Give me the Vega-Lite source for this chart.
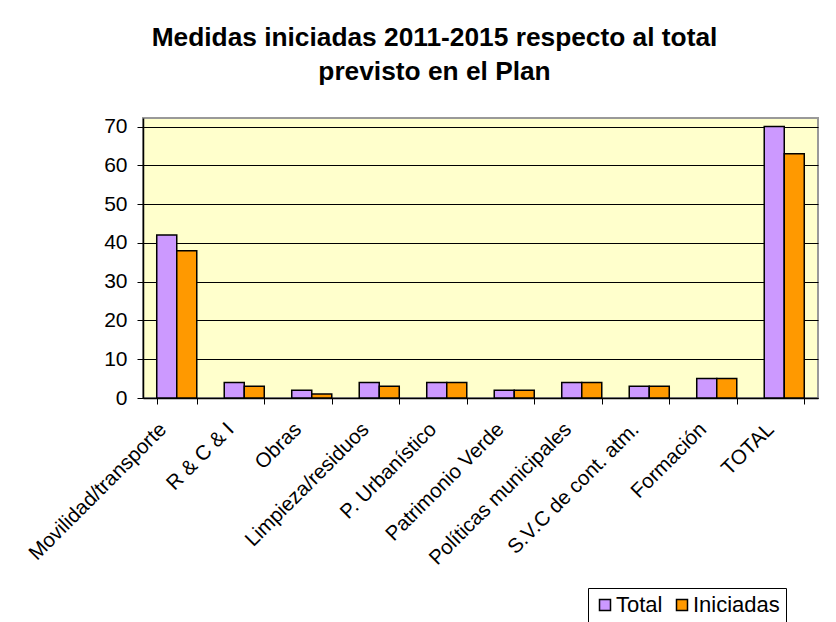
{
  "$schema": "https://vega.github.io/schema/vega-lite/v6.json",
  "autosize": "none",
  "width": 675,
  "height": 280,
  "padding": {"left": 143, "top": 118, "right": 18, "bottom": 224},
  "background": "white",
  "title": {
    "text": ["Medidas iniciadas 2011-2015 respecto al total", "previsto en el Plan"],
    "font": "Liberation Sans",
    "fontSize": 26.3,
    "fontWeight": "bold",
    "color": "black",
    "anchor": "middle",
    "frame": "group",
    "dx": -46,
    "lineHeight": 34,
    "offset": 30
  },
  "data": {
    "values": [
      {"cat": "Movilidad/transporte", "serie": "Total", "valor": 42},
      {"cat": "Movilidad/transporte", "serie": "Iniciadas", "valor": 38},
      {"cat": "R & C & I", "serie": "Total", "valor": 4},
      {"cat": "R & C & I", "serie": "Iniciadas", "valor": 3},
      {"cat": "Obras", "serie": "Total", "valor": 2},
      {"cat": "Obras", "serie": "Iniciadas", "valor": 1},
      {"cat": "Limpieza/residuos", "serie": "Total", "valor": 4},
      {"cat": "Limpieza/residuos", "serie": "Iniciadas", "valor": 3},
      {"cat": "P. Urbanístico", "serie": "Total", "valor": 4},
      {"cat": "P. Urbanístico", "serie": "Iniciadas", "valor": 4},
      {"cat": "Patrimonio Verde", "serie": "Total", "valor": 2},
      {"cat": "Patrimonio Verde", "serie": "Iniciadas", "valor": 2},
      {"cat": "Políticas municipales", "serie": "Total", "valor": 4},
      {"cat": "Políticas municipales", "serie": "Iniciadas", "valor": 4},
      {"cat": "S.V.C de cont. atm.", "serie": "Total", "valor": 3},
      {"cat": "S.V.C de cont. atm.", "serie": "Iniciadas", "valor": 3},
      {"cat": "Formación", "serie": "Total", "valor": 5},
      {"cat": "Formación", "serie": "Iniciadas", "valor": 5},
      {"cat": "TOTAL", "serie": "Total", "valor": 70},
      {"cat": "TOTAL", "serie": "Iniciadas", "valor": 63}
    ]
  },
  "mark": {"type": "bar", "stroke": "black", "strokeWidth": 1.5},
  "encoding": {
    "x": {
      "field": "cat",
      "type": "nominal",
      "sort": null,
      "title": null,
      "scale": {"paddingInner": 0.407, "paddingOuter": 0.2035},
      "axis": {
        "labelAngle": -45,
        "labelAlign": "right",
        "labelBaseline": "middle",
        "labelFont": "Liberation Sans",
        "labelFontSize": 20.5,
        "labelColor": "black",
        "labelPadding": 22,
        "labelOffset": -14,
        "tickBand": "extent",
        "tickSize": 6,
        "tickColor": "black",
        "domainColor": "black",
        "domainWidth": 1.5,
        "labelLimit": 400,
        "grid": false
      }
    },
    "xOffset": {
      "field": "serie",
      "type": "nominal",
      "sort": ["Total", "Iniciadas"],
      "scale": {"paddingInner": 0, "paddingOuter": 0}
    },
    "y": {
      "field": "valor",
      "type": "quantitative",
      "title": null,
      "scale": {"domain": [0, 72.2], "nice": false, "zero": true},
      "axis": {
        "values": [0, 10, 20, 30, 40, 50, 60, 70],
        "labelFont": "Liberation Sans",
        "labelFontSize": 21,
        "labelColor": "black",
        "labelPadding": 10,
        "tickSize": 6,
        "tickColor": "black",
        "domainColor": "black",
        "domainWidth": 1.5,
        "grid": true,
        "gridColor": "black",
        "gridWidth": 1
      }
    },
    "color": {
      "field": "serie",
      "type": "nominal",
      "scale": {"domain": ["Total", "Iniciadas"], "range": ["#CC99FF", "#FF9900"]},
      "legend": {
        "title": null,
        "orient": "none",
        "direction": "horizontal",
        "legendX": 445,
        "legendY": 470,
        "padding": 6,
        "fillColor": "white",
        "strokeColor": "black",
        "symbolType": "square",
        "symbolSize": 121,
        "symbolStrokeColor": "black",
        "symbolStrokeWidth": 1.5,
        "symbolOpacity": 1,
        "labelFont": "Liberation Sans",
        "labelFontSize": 22,
        "labelColor": "black",
        "columnPadding": 8,
        "labelOffset": 0
      }
    }
  },
  "config": {
    "view": {"fill": "#FFFFCC", "stroke": "#999999", "strokeWidth": 2},
    "font": "Liberation Sans"
  }
}
